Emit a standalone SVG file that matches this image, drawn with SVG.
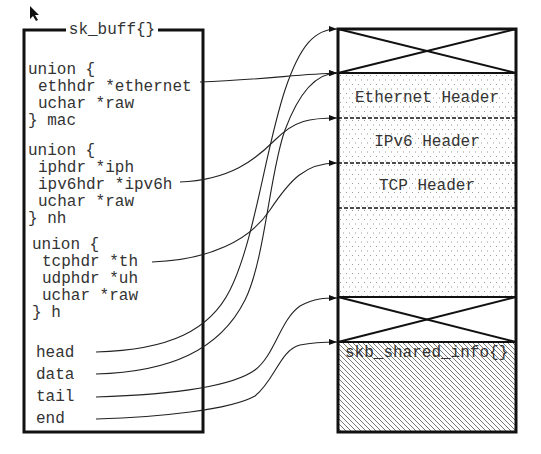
<svg xmlns="http://www.w3.org/2000/svg" width="541" height="454" viewBox="0 0 541 454">
<style>
.t{font-family:"Liberation Mono","DejaVu Sans Mono",monospace;font-size:16px;fill:#333}
.box{fill:none;stroke:#111;stroke-width:3}
.c{fill:none;stroke:#222;stroke-width:1.1}
.x{stroke:#111;stroke-width:2}
.d{stroke:#111;stroke-width:1.6;stroke-dasharray:4 2}
</style>
<defs>
<marker id="ah" viewBox="0 0 8 6" refX="8" refY="3" markerWidth="8" markerHeight="6" markerUnits="userSpaceOnUse" orient="auto">
<path d="M0,0 L8,3 L0,6 z" fill="#111"/>
</marker>
<pattern id="dots" patternUnits="userSpaceOnUse" width="6" height="9" x="338" y="73">
<rect x="2" y="2" width="1" height="1" fill="#9a9a9a"/>
<rect x="5" y="6.5" width="1" height="1" fill="#9a9a9a"/>
</pattern>
<pattern id="hatch" patternUnits="userSpaceOnUse" width="5" height="5">
<path d="M-1,-1 L6,6 M-1,4 L1,6 M4,-1 L6,1" stroke="#555" stroke-width="0.8"/>
</pattern>
</defs>

<path d="M30,6 L30,19 L33,16 L36,21 L38,20 L35,15 L39,15 z" fill="#111"/>

<g id="sk_buff">
<rect class="box" x="24" y="30" width="179" height="402"/>
<rect x="66" y="22" width="92" height="16" fill="#fff"/>
<text class="t" x="112" y="34" text-anchor="middle">sk_buff{}</text>
<text class="t" x="28" y="74">union {</text>
<text class="t" x="38" y="91">ethhdr *ethernet</text>
<text class="t" x="38" y="108">uchar *raw</text>
<text class="t" x="28" y="125">} mac</text>
<text class="t" x="28" y="155">union {</text>
<text class="t" x="38" y="172">iphdr *iph</text>
<text class="t" x="38" y="189">ipv6hdr *ipv6h</text>
<text class="t" x="38" y="206">uchar *raw</text>
<text class="t" x="28" y="223">} nh</text>
<text class="t" x="32" y="249">union {</text>
<text class="t" x="42" y="266">tcphdr *th</text>
<text class="t" x="42" y="283">udphdr *uh</text>
<text class="t" x="42" y="300">uchar *raw</text>
<text class="t" x="32" y="317">} h</text>
<text class="t" x="36" y="357">head</text>
<text class="t" x="36" y="379">data</text>
<text class="t" x="36" y="401">tail</text>
<text class="t" x="36" y="423">end</text>
</g>

<g id="buffer">
<rect x="338" y="73" width="178" height="224" fill="url(#dots)"/>
<rect x="338" y="342" width="178" height="90" fill="url(#hatch)"/>
<line class="x" x1="338" y1="29" x2="516" y2="73"/>
<line class="x" x1="516" y1="29" x2="338" y2="73"/>
<line class="x" x1="338" y1="297" x2="516" y2="342"/>
<line class="x" x1="516" y1="297" x2="338" y2="342"/>
<line x1="338" y1="73" x2="516" y2="73" stroke="#111" stroke-width="2"/>
<line x1="338" y1="297" x2="516" y2="297" stroke="#111" stroke-width="2"/>
<line x1="338" y1="342" x2="516" y2="342" stroke="#111" stroke-width="2"/>
<line class="d" x1="338" y1="118" x2="516" y2="118"/>
<line class="d" x1="338" y1="163" x2="516" y2="163"/>
<line class="d" x1="338" y1="208" x2="516" y2="208"/>
<rect class="box" x="338" y="29" width="178" height="403"/>
<text class="t" x="427" y="102" text-anchor="middle">Ethernet Header</text>
<text class="t" x="427" y="146" text-anchor="middle">IPv6 Header</text>
<text class="t" x="427" y="190" text-anchor="middle">TCP Header</text>
<text class="t" x="345" y="357">skb_shared_info{}</text>
</g>

<g id="connectors">
<path class="c" marker-end="url(#ah)" d="M200,82 C260,80 300,74 337,73"/>
<path class="c" marker-end="url(#ah)" d="M180,182 C230,180 255,160 275,140 C295,120 310,118 337,118"/>
<path class="c" marker-end="url(#ah)" d="M152,262 C210,260 250,240 270,210 C290,180 305,163 337,163"/>
<path class="c" marker-end="url(#ah)" d="M96,352 C170,350 210,330 230,290 C255,240 265,150 285,90 C300,45 315,29 337,29"/>
<path class="c" marker-end="url(#ah)" d="M96,374 C170,372 220,350 245,300 C265,260 270,170 285,130 C298,95 315,73 337,73"/>
<path class="c" marker-end="url(#ah)" d="M96,397 C160,395 230,388 255,370 C275,355 280,320 300,306 C315,298 325,298 337,298"/>
<path class="c" marker-end="url(#ah)" d="M96,419 C160,417 230,410 255,396 C275,380 280,350 300,345 C315,342 325,342 337,342"/>
</g>
</svg>
